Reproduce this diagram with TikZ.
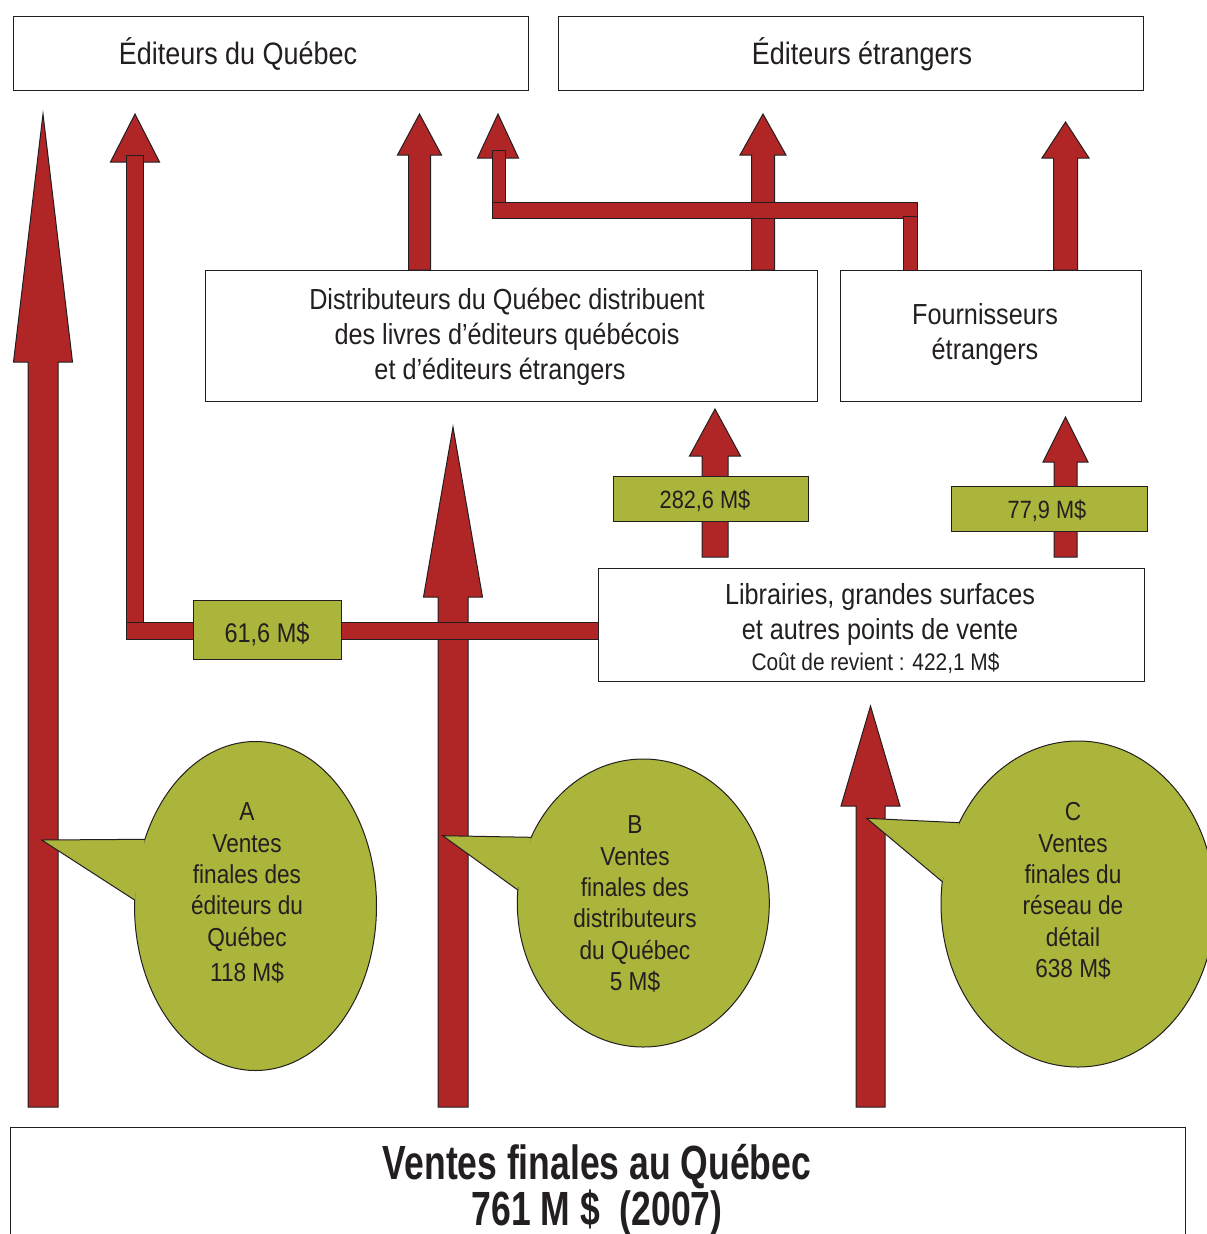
\documentclass[tikz,border=0pt]{standalone}
\usepackage{fontspec}
\setmainfont[FakeStretch=0.87]{Liberation Sans}
\newfontfamily\bigcond[FakeStretch=0.74]{Liberation Sans}
\definecolor{brick}{RGB}{176,38,38}
\definecolor{leaf}{RGB}{171,180,59}
\definecolor{ink}{RGB}{35,31,32}
\newcommand\barrow[6]{% x, ybottom, ytip, shaft half, head half, head base y
  \draw[arr] (#1-#4,#2) -- (#1-#4,#6) -- (#1-#5,#6) -- (#1,#3) -- (#1+#5,#6) -- (#1+#4,#6) -- (#1+#4,#2) -- cycle;}
\begin{document}
\begin{tikzpicture}[x=1pt,y=-1pt,
  box/.style={draw=ink, line width=1.1pt, fill=white, inner sep=0pt, anchor=north west},
  lab/.style={draw=ink, line width=1.1pt, fill=leaf, inner sep=0pt, anchor=north west},
  arr/.style={draw=ink, line width=1pt, fill=brick, line join=miter},
  txt/.style={align=center, inner sep=0pt, text=ink},
  bigtxt/.style={txt, font=\fontsize{29}{35}\selectfont},
  labtxt/.style={txt, font=\fontsize{25}{30}\selectfont},
  bubtxt/.style={txt, font=\fontsize{26}{31.3}\selectfont}]
\useasboundingbox (0,0) rectangle (1207,1234);
\clip (0,0) rectangle (1207,1234);

% top boxes
\node[box, minimum width=515pt, minimum height=74pt] (edq) at (13,16) {};
\node[txt, font=\fontsize{31}{36}\selectfont, anchor=base] at (238,64) {Éditeurs du Québec};
\node[box, minimum width=585pt, minimum height=74pt] (ede) at (558,16) {};
\node[txt, font=\fontsize{31}{36}\selectfont, anchor=base] at (862,64) {Éditeurs étrangers};

% bottom box
\node[box, minimum width=1175pt, minimum height=140pt] (vf) at (10,1127) {};
\node[txt, font=\bigcond\bfseries\fontsize{48}{48}\selectfont, anchor=base] at (597,1179) {Ventes finales au Québec};
\node[txt, font=\bigcond\bfseries\fontsize{48}{48}\selectfont, anchor=base] at (597,1225) {761 M \$~~(2007)};

% big vertical arrows
\barrow{43}{1107}{114}{15}{29.5}{362}
\barrow{453}{1107}{427}{15}{29.5}{597}
\barrow{870.5}{1107}{706}{14.5}{29.5}{806}

% thin arrow to Editeurs du Quebec
\draw[arr] (135,114) -- (110.5,162) -- (159.5,162) -- cycle;
\draw[arr] (126,155) rectangle (143,639);

% bent arrow from Fournisseurs to Editeurs du Quebec
\draw[arr] (498,114) -- (477.5,158) -- (518.5,158) -- cycle;
\draw[arr] (492,150) rectangle (505,218);

% arrows from Distributeurs
\barrow{419.5}{270}{114}{11}{22}{155}
\barrow{763}{270}{114}{11.5}{23}{155}

\draw[arr] (492,202) rectangle (917,218);
\draw[arr] (903,216) rectangle (917,270);

% arrow from Fournisseurs
\barrow{1065.5}{270}{122}{12}{23.5}{158}

% horizontal bar 61,6
\draw[arr] (126,622) rectangle (598,639);

% arrows from Librairies
\barrow{715}{557}{409}{13}{25.5}{456}
\barrow{1065.5}{557}{417}{11.5}{22.5}{462}

% middle boxes
\node[box, minimum width=612pt, minimum height=131pt] (dist) at (205,270) {};
\node[bigtxt] at (507,337) {Distributeurs du Québec distribuent\\des livres d’éditeurs québécois\\\hspace*{0pt}et d’éditeurs étrangers\hspace*{14pt}};
\node[box, minimum width=301pt, minimum height=131pt] (four) at (840,270) {};
\node[bigtxt] at (985,334) {Fournisseurs\\étrangers};
\node[box, minimum width=546pt, minimum height=113pt] (lib) at (598,568) {};
\node[bigtxt] at (880,629) {Librairies, grandes surfaces\\et autres points de vente\\[-4pt]\fontsize{24}{28}\selectfont Coût de revient : 422,1 M\$\hspace*{9pt}};

% amount labels
\node[lab, minimum width=195pt, minimum height=45pt] (l282) at (613,476) {};
\node[labtxt, anchor=base] at (705,508) {282,6 M\$};
\node[lab, minimum width=196pt, minimum height=45pt] (l779) at (951,486) {};
\node[labtxt, anchor=base] at (1047,518) {77,9 M\$};
\node[lab, minimum width=148pt, minimum height=59pt] (l616) at (193,600) {};
\node[labtxt, font=\fontsize{27}{30}\selectfont, anchor=base] at (267,642) {61,6 M\$};

% bubble A
\filldraw[fill=leaf, draw=ink, line width=1pt] (255.5,906) ellipse [x radius=121pt, y radius=164.5pt];
\fill[leaf] (41.7,840) -- (144.9,839.3) -- (134.6,900) -- cycle;
\draw[ink, line width=1pt, line join=miter] (144.9,839.3) -- (41.7,840) -- (134.6,900);
\node[bubtxt] (ta) at (247,893) {A\\Ventes\\finales des\\éditeurs du\\Québec\\[4pt]118 M\$};

% bubble B
\filldraw[fill=leaf, draw=ink, line width=1pt] (643.3,903) ellipse [x radius=126pt, y radius=144pt];
\fill[leaf] (442.7,835.7) -- (531.2,837.3) -- (517.8,890) -- cycle;
\draw[ink, line width=1pt, line join=miter] (531.2,837.3) -- (442.7,835.7) -- (517.8,890);
\node[bubtxt] (tb) at (635,904) {B\\Ventes\\finales des\\distributeurs\\du Québec\\5 M\$};

% bubble C
\filldraw[fill=leaf, draw=ink, line width=1pt] (1078,904) ellipse [x radius=137pt, y radius=163pt];
\fill[leaf] (866.7,818.3) -- (959.3,822.7) -- (942.3,881.7) -- cycle;
\draw[ink, line width=1pt, line join=miter] (959.3,822.7) -- (866.7,818.3) -- (942.3,881.7);
\node[bubtxt] (tc) at (1073,891) {C\\Ventes\\finales du\\réseau de\\détail\\638 M\$};
\end{tikzpicture}
\end{document}
